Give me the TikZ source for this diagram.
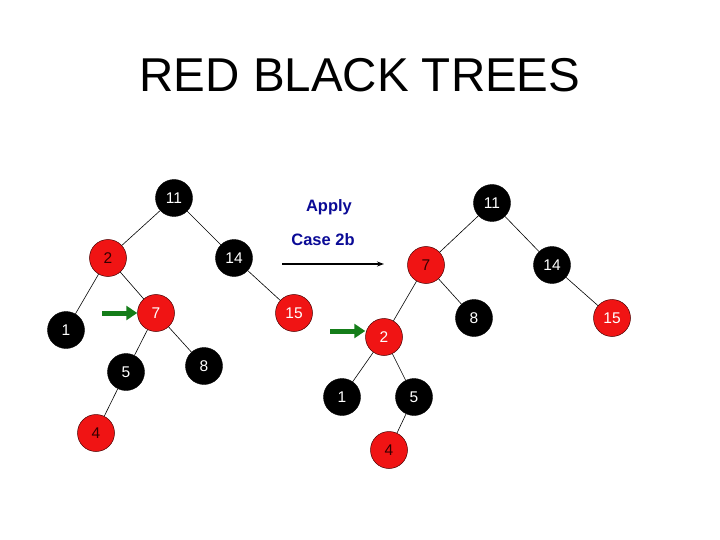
\documentclass[tikz,border=0pt]{standalone}
\usepackage{fontspec}
\setmainfont{Liberation Sans}
\usetikzlibrary{arrows.meta}
\definecolor{rbred}{RGB}{240,20,20}
\definecolor{navy}{RGB}{10,10,150}
\definecolor{grn}{RGB}{20,125,25}
\tikzset{
  blk/.style={circle,fill=black,draw=black,minimum size=37pt,inner sep=0pt,text=white,font=\fontsize{15.5}{15.5}\selectfont},
  rd/.style={circle,fill=rbred,draw=black!70!red,line width=0.5pt,minimum size=37pt,inner sep=0pt,text=white,font=\fontsize{15.5}{15.5}\selectfont},
  rdk/.style={rd,text=black!80!red},
  edge/.style={draw=black,line width=0.6pt},
  greenarrow/.style={draw=grn,line width=5pt,-{Triangle[length=11pt,width=14pt]}},
  lbl/.style={text=navy,font=\bfseries\fontsize{16.5}{16.5}\selectfont}
}
\begin{document}
\begin{tikzpicture}[x=1pt,y=-1pt]
\useasboundingbox (0,0) rectangle (720,540);
\node[font=\fontsize{47.5}{47.5}\selectfont,anchor=base] (title) at (360,92) {RED BLACK TREES};
% left tree
\node[blk] (a11) at (174,198) {11};
\node[rdk] (a2) at (108,258) {2};
\node[blk] (a14) at (234,258) {14};
\node[rd] (a7) at (156,313) {7};
\node[rd] (a15) at (294,313) {15};
\node[blk] (a1) at (66,330) {1};
\node[blk] (a5) at (126,372) {5};
\node[blk] (a8) at (204,366) {8};
\node[rdk] (a4) at (96,433) {4};
\path[edge] (a11)--(a2) (a11)--(a14) (a2)--(a1) (a2)--(a7) (a14)--(a15) (a7)--(a5) (a7)--(a8) (a5)--(a4);
\coordinate (ga) at (102,313);
\draw[greenarrow] (ga) -- (ga -| a7.west);
% label and arrow
\node[lbl] (apply) at (329,207) {Apply};
\node[lbl] (case) at (323,240) {Case 2b};
\coordinate (ar1) at (282,264);
\coordinate (ar2) at (384,264);
\draw[line width=1.3pt,-{Stealth[length=7pt,width=5pt]}] (ar1) -- (ar2);
% right tree
\node[blk] (b11) at (492,203) {11};
\node[rdk] (b7) at (426,265) {7};
\node[blk] (b14) at (552,265) {14};
\node[blk] (b8) at (474,318) {8};
\node[rd] (b15) at (612,318) {15};
\node[rd] (b2) at (384,337) {2};
\node[blk] (b1) at (342,397) {1};
\node[blk] (b5) at (414,397) {5};
\node[rdk] (b4) at (389,450) {4};
\path[edge] (b11)--(b7) (b11)--(b14) (b7)--(b2) (b7)--(b8) (b14)--(b15) (b2)--(b1) (b2)--(b5) (b5)--(b4);
\coordinate (gb) at (330,331);
\draw[greenarrow] (gb) -- (gb -| b2.west);
\end{tikzpicture}
\end{document}
